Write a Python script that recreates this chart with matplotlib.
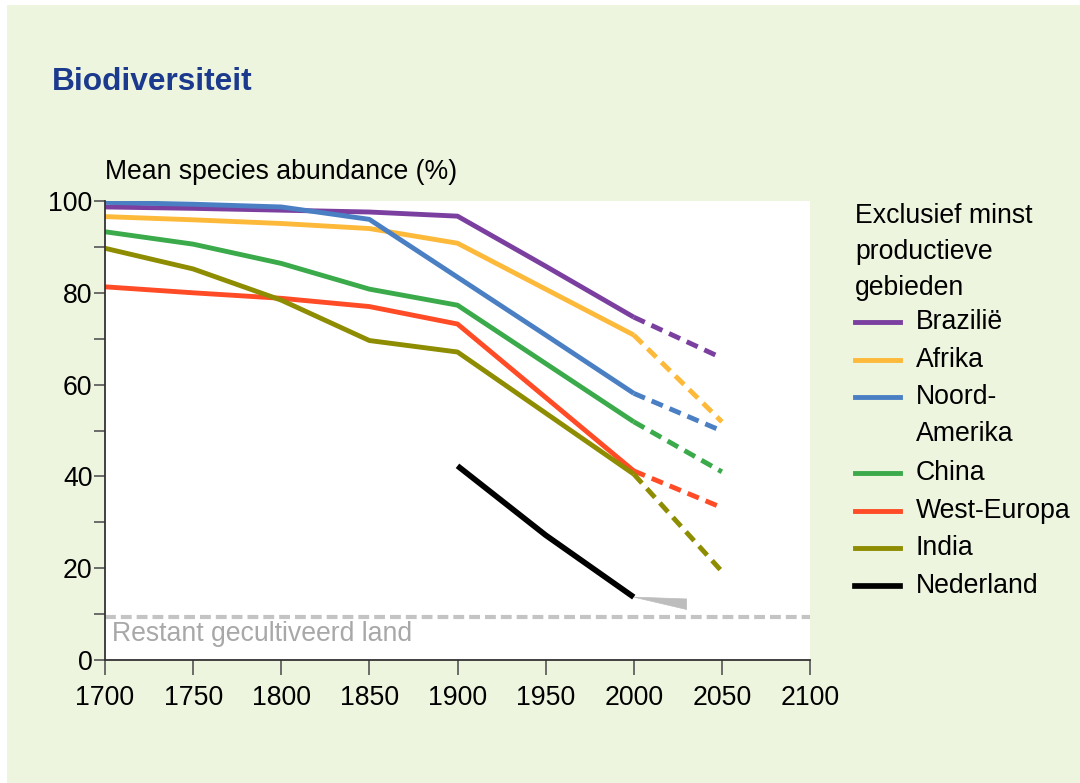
import matplotlib
matplotlib.use('Agg')
import matplotlib.pyplot as plt
from matplotlib.lines import Line2D
from matplotlib.patches import Rectangle, Polygon

plt.rcParams['font.family'] = ['Liberation Sans', 'DejaVu Sans']

# Historical values (1700-2000) and projection (2000-2050)
years_hist = [1700, 1750, 1800, 1850, 1900, 1950, 2000]
years_proj = [2000, 2050]

brazilie = [98.7, 98.4, 98.0, 97.6, 96.7, 85.8, 74.7]
afrika = [96.6, 95.9, 95.1, 94.0, 90.8, 80.8, 70.8]
noord_amerika = [99.7, 99.3, 98.7, 96.0, 83.4, 70.8, 58.1]
china = [93.3, 90.6, 86.4, 80.8, 77.3, 64.6, 51.9]
west_europa = [81.3, 80.0, 78.8, 77.0, 73.2, 57.2, 41.2]
india = [89.7, 85.2, 78.4, 69.6, 67.1, 53.8, 40.5]

proj_brazilie = [74.7, 65.8]
proj_afrika = [70.8, 51.9]
proj_noord_amerika = [58.1, 49.9]
proj_china = [51.9, 41.0]
proj_west_europa = [41.2, 33.2]
proj_india = [40.5, 19.3]

years_nl = [1900, 1950, 2000]
nederland = [42.3, 27.2, 13.7]
# grey wedge for the Dutch projection
wedge_years = [2000, 2030, 2030]
wedge_values = [13.7, 13.3, 11.0]

restant = 9.3

names = ['Brazilië', 'Afrika', 'Noord-\nAmerika', 'China', 'West-Europa', 'India']
colors = ['#7B3FA0', '#FDB93A', '#4A80C3', '#3AAA4A', '#FF4B26', '#8E8C00']
hist = [brazilie, afrika, noord_amerika, china, west_europa, india]
proj = [proj_brazilie, proj_afrika, proj_noord_amerika, proj_china,
        proj_west_europa, proj_india]

W, H = 1080, 783
fs = 19.2
fig = plt.figure(figsize=(W / 100, H / 100), dpi=100)
fig.patch.set_facecolor('white')

# green panel behind everything
fig.add_artist(Rectangle((7 / W, 0), 1 - 7 / W, 1 - 5 / H,
                         transform=fig.transFigure, facecolor='#EDF5DF',
                         edgecolor='none', zorder=-10))

ax = fig.add_axes([105 / W, 1 - 660 / H, 705 / W, 459 / H])
ax.set_facecolor('white')

lw = 3.5
for vals, pv, c in zip(hist, proj, colors):
    ax.plot(years_hist, vals, color=c, lw=lw, solid_joinstyle='round',
            solid_capstyle='butt')
    ax.plot(years_proj, pv, color=c, lw=lw, dashes=(2.5, 1.5))

ax.plot(years_nl, nederland, color='black', lw=lw + 0.6,
        solid_capstyle='butt')
ax.add_patch(Polygon(list(zip(wedge_years, wedge_values)), closed=True,
                     facecolor='#BDBDBD', edgecolor='#BDBDBD', lw=0.5))

ax.axhline(restant, color='#C4C4C4', lw=3, dashes=(2.6, 1.2), zorder=1)
ax.text(1704, 5.6, 'Restant gecultiveerd land', color='#A8A8A8',
        fontsize=fs, va='center', ha='left')

ax.set_xlim(1700, 2100)
ax.set_ylim(0, 100)
ax.set_xticks(range(1700, 2101, 50))
ax.set_yticks(range(0, 101, 20))
ax.set_yticks(range(10, 100, 20), minor=True)

for s in ['top', 'right']:
    ax.spines[s].set_visible(False)
for s in ['left', 'bottom']:
    ax.spines[s].set_color('#333333')
    ax.spines[s].set_linewidth(1.3)

ax.tick_params(axis='y', which='both', direction='out', length=8,
               width=1.2, color='#555555', labelsize=fs, pad=1)
ax.tick_params(axis='x', direction='out', length=11, width=1.2,
               color='#555555', labelsize=fs, pad=7)

fig.text(52 / W, 1 - 82 / H, 'Biodiversiteit', fontsize=22.8,
         fontweight='bold', color='#1B3A8E', va='center', ha='left')
fig.text(105 / W, 1 - 172 / H, 'Mean species abundance (%)', fontsize=fs,
         va='center', ha='left')

# legend, drawn by hand
fig.text(855 / W, 1 - 216 / H, 'Exclusief minst', fontsize=fs,
         va='center', ha='left')
fig.text(855 / W, 1 - 252 / H, 'productieve', fontsize=fs,
         va='center', ha='left')
fig.text(855 / W, 1 - 288 / H, 'gebieden', fontsize=fs,
         va='center', ha='left')

leg_y = [322, 360, 397, 473, 511, 548]
for name, c, yy in zip(names, colors, leg_y):
    fig.add_artist(Line2D([855 / W, 900 / W], [1 - yy / H, 1 - yy / H],
                          color=c, lw=lw, transform=fig.transFigure))
    if '\n' in name:
        first, second = name.split('\n')
        fig.text(916 / W, 1 - yy / H, first, fontsize=fs, va='center')
        fig.text(916 / W, 1 - (yy + 37) / H, second, fontsize=fs,
                 va='center')
    else:
        fig.text(916 / W, 1 - yy / H, name, fontsize=fs, va='center')

fig.add_artist(Line2D([855 / W, 900 / W], [1 - 586 / H, 1 - 586 / H],
                      color='black', lw=lw + 0.6, transform=fig.transFigure))
fig.text(916 / W, 1 - 586 / H, 'Nederland', fontsize=fs, va='center')

fig.savefig('out.png', dpi=100)
